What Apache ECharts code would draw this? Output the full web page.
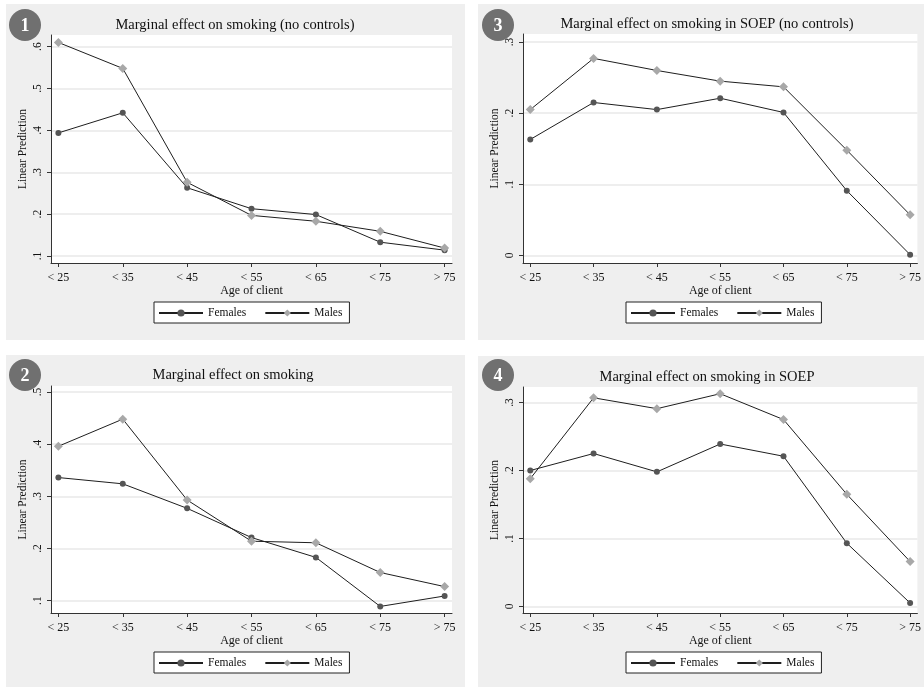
<!DOCTYPE html>
<html>
<head>
<meta charset="utf-8">
<title>Marginal effect on smoking</title>
<script src="https://cdn.jsdelivr.net/npm/echarts@6.0.0/dist/echarts.min.js"></script>
<style>
  html, body { margin: 0; padding: 0; background: #fff; }
  #chart { width: 924px; height: 687px; }
</style>
</head>
<body>
<div id="chart"></div>
<script>
// categories
const ageGroups = ['< 25', '< 35', '< 45', '< 55', '< 65', '< 75', '> 75']

// 1: no controls
const femalesNoControls = [0.394, 0.442, 0.263, 0.213, 0.199, 0.133, 0.114]
const malesNoControls = [0.610, 0.548, 0.276, 0.197, 0.183, 0.159, 0.119]
// 2: with controls
const femalesControls = [0.336, 0.324, 0.277, 0.221, 0.183, 0.089, 0.109]
const malesControls = [0.396, 0.448, 0.293, 0.214, 0.211, 0.154, 0.127]
// 3: SOEP, no controls
const femalesSoepNoControls = [0.163, 0.215, 0.205, 0.221, 0.201, 0.091, 0.001]
const malesSoepNoControls = [0.205, 0.277, 0.260, 0.245, 0.237, 0.148, 0.057]
// 4: SOEP
const femalesSoep = [0.200, 0.225, 0.198, 0.239, 0.221, 0.093, 0.005]
const malesSoep = [0.188, 0.307, 0.291, 0.313, 0.275, 0.165, 0.066]

// y tick labels
const ticksNoControls = [0.1, 0.2, 0.3, 0.4, 0.5, 0.6]
const ticksControls = [0.1, 0.2, 0.3, 0.4, 0.5]
const ticksSoep = [0, 0.1, 0.2, 0.3]

const titles = [
    'Marginal effect on smoking (no controls)',
    'Marginal effect on smoking',
    'Marginal effect on smoking in SOEP (no controls)',
    'Marginal effect on smoking in SOEP'
]

const panels = [
    { n: '1', females: femalesNoControls, males: malesNoControls, ticks: ticksNoControls, yMin: 0.0833, yMax: 0.6278 },
    { n: '2', females: femalesControls, males: malesControls, ticks: ticksControls, yMin: 0.0764, yMax: 0.5115 },
    { n: '3', females: femalesSoepNoControls, males: malesSoepNoControls, ticks: ticksSoep, yMin: -0.0107, yMax: 0.3113 },
    { n: '4', females: femalesSoep, males: malesSoep, ticks: ticksSoep, yMin: -0.0097, yMax: 0.3229 }
]

// where each panel sits on the page
const layout = [
    { grid: { left: 51, top: 35, width: 401, height: 228 }, bg: [6, 4, 459, 336], title: [235, 25], badge: [25, 25], legend: [154, 302] },
    { grid: { left: 51, top: 386, width: 401, height: 227 }, bg: [6, 355, 459, 332], title: [233, 375], badge: [25, 375], legend: [154, 652] },
    { grid: { left: 523, top: 34, width: 401, height: 229 }, bg: [478, 4, 446, 336], title: [707, 24], badge: [498, 25], legend: [626, 302] },
    { grid: { left: 523, top: 387, width: 401, height: 226 }, bg: [478, 356, 446, 331], title: [707, 377], badge: [498, 375], legend: [626, 652] }
]

const serif = '"Liberation Serif", "DejaVu Serif", serif'
const axisColor = '#333'
const fmtTick = v => v === 0 ? '0' : String(v).replace(/^0\./, '.')

const chart = echarts.init(document.getElementById('chart'))

const grid = [], xAxis = [], yAxis = [], series = [], legend = [], graphic = []

panels.forEach((p, i) => {
    const L = layout[i]
    grid.push(Object.assign({ show: true, backgroundColor: '#fff', borderWidth: 0 }, L.grid))

    xAxis.push({
        type: 'value',
        gridIndex: i,
        min: -0.115,
        max: ageGroups.length - 1 + 0.115,
        name: 'Age of client',
        nameLocation: 'middle',
        nameGap: 19,
        nameTextStyle: { fontFamily: serif, fontSize: 12, color: '#111' },
        axisLine: { onZero: false, lineStyle: { color: axisColor, width: 1 } },
        axisTick: { length: 4, customValues: ageGroups.map((c, k) => k), lineStyle: { color: axisColor } },
        axisLabel: {
            customValues: ageGroups.map((c, k) => k),
            formatter: v => ageGroups[Math.round(v)],
            fontFamily: serif, fontSize: 12, color: '#111', margin: 9
        },
        splitLine: { show: false }
    })

    yAxis.push({
        type: 'value',
        gridIndex: i,
        min: p.yMin,
        max: p.yMax,
        name: 'Linear Prediction',
        nameLocation: 'middle',
        nameGap: 22,
        nameTextStyle: { fontFamily: serif, fontSize: 11.5, color: '#111' },
        axisLine: { show: true, onZero: false, lineStyle: { color: axisColor, width: 1 } },
        axisTick: { show: true, length: 4, customValues: p.ticks, lineStyle: { color: axisColor } },
        axisLabel: {
            customValues: p.ticks,
            formatter: fmtTick,
            rotate: 90,
            fontFamily: serif, fontSize: 11.5, color: '#111', margin: 7
        },
        splitLine: { show: true, lineStyle: { color: '#e8e8e8', width: 1.5 } }
    })

    series.push({
        name: 'Females',
        type: 'line',
        xAxisIndex: i,
        yAxisIndex: i,
        data: p.females.map((v, k) => [k, v]),
        symbol: 'circle',
        symbolSize: 6,
        itemStyle: { color: '#555' },
        lineStyle: { color: '#1e1e1e', width: 1 },
        z: 3
    })
    series.push({
        name: 'Males',
        type: 'line',
        xAxisIndex: i,
        yAxisIndex: i,
        data: p.males.map((v, k) => [k, v]),
        symbol: 'diamond',
        symbolSize: 9,
        itemStyle: { color: '#a8a8a8' },
        lineStyle: { color: '#1e1e1e', width: 1 },
        z: 4
    })

    legend.push({
        data: ['Females', 'Males'],
        left: L.legend[0],
        top: L.legend[1],
        orient: 'horizontal',
        itemWidth: 44,
        itemHeight: 9,
        itemGap: 18,
        padding: [5, 7, 4, 4],
        backgroundColor: '#fff',
        borderColor: '#222',
        borderWidth: 1,
        borderRadius: 0,
        selectedMode: false,
        textStyle: { fontFamily: serif, fontSize: 11.5, color: '#111' }
    })

    graphic.push({
        type: 'rect',
        z: -10,
        silent: true,
        shape: { x: L.bg[0], y: L.bg[1], width: L.bg[2], height: L.bg[3] },
        style: { fill: '#efefef' }
    })
    graphic.push({
        type: 'text',
        z: 100,
        x: L.title[0],
        y: L.title[1],
        style: {
            text: titles[i],
            font: '14.5px ' + serif,
            fill: '#111',
            align: 'center',
            verticalAlign: 'middle',
            textAlign: 'center',
            textVerticalAlign: 'middle'
        }
    })
    graphic.push({
        type: 'circle',
        z: 100,
        shape: { cx: L.badge[0], cy: L.badge[1], r: 16 },
        style: { fill: '#707070' }
    })
    graphic.push({
        type: 'text',
        z: 101,
        x: L.badge[0],
        y: L.badge[1] + 1,
        style: {
            text: p.n,
            font: 'bold 18px ' + serif,
            fill: '#fff',
            align: 'center',
            verticalAlign: 'middle',
            textAlign: 'center',
            textVerticalAlign: 'middle'
        }
    })
})

chart.setOption({
    animation: false,
    backgroundColor: '#fff',
    grid: grid,
    xAxis: xAxis,
    yAxis: yAxis,
    legend: legend,
    graphic: graphic,
    series: series
})
</script>
</body>
</html>
